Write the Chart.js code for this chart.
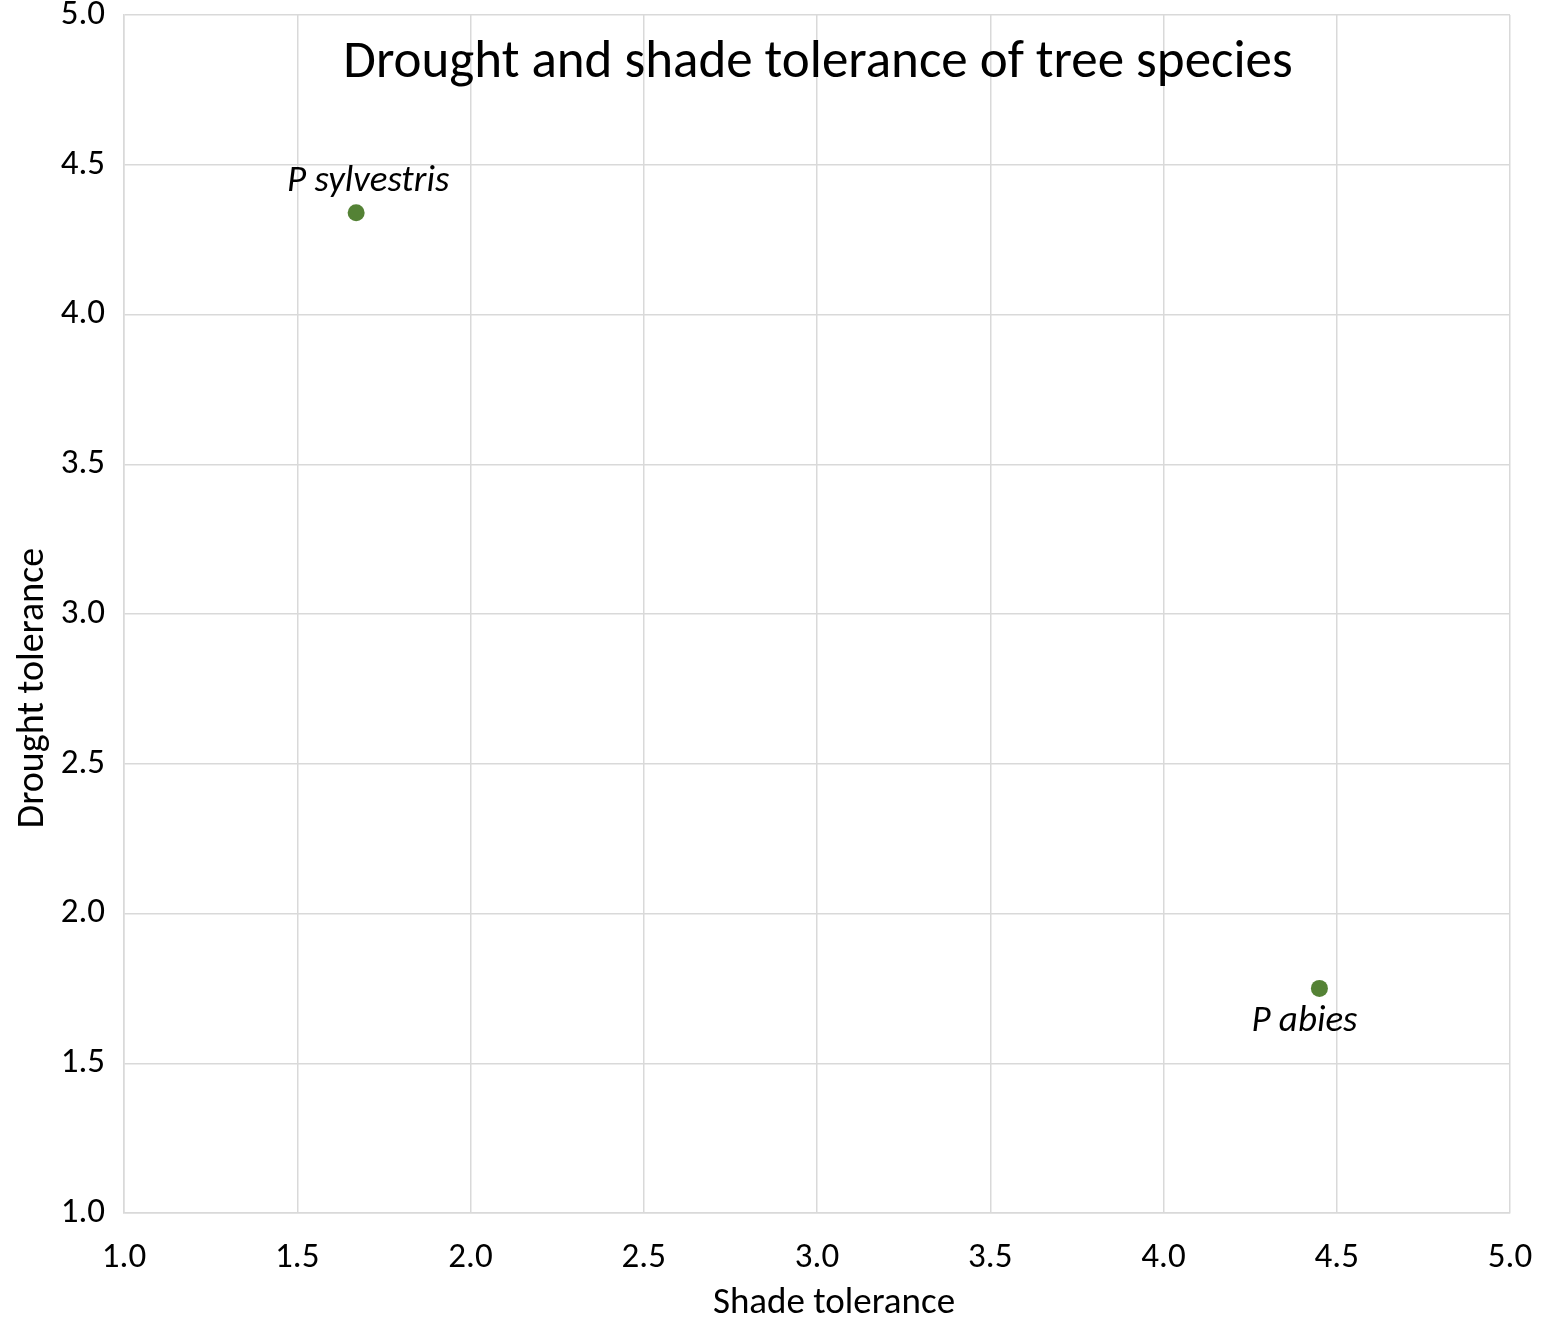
<!DOCTYPE html>
<html>
<head>
<meta charset="utf-8">
<script src="https://cdn.jsdelivr.net/npm/chart.js@4/dist/chart.umd.min.js"></script>
<style>
    html, body { margin: 0; padding: 0; background: #ffffff; }
    #treeChart { display: block; }
</style>
</head>
<body>
<canvas id="treeChart" width="1542" height="1323"></canvas>
<script>
    // Species and their tolerance scores
    const species = ['P sylvestris', 'P abies'];
    const shadeTolerance = [1.67, 4.45];
    const droughtTolerance = [4.34, 1.75];

    // Tick labels for both axes
    const tickLabels = ['1.0', '1.5', '2.0', '2.5', '3.0', '3.5', '4.0', '4.5', '5.0'];

    const chartTitle = 'Drought and shade tolerance of tree species';
    const xTitle = 'Shade tolerance';
    const yTitle = 'Drought tolerance';

    const FONT = 'Carlito, Lato, sans-serif';
    const GRID = '#d9d9d9';
    const POINT_COLOR = '#548235';

    // where each species name sits relative to its marker
    const labelOffsets = [
        { dx: 12, dy: -22 },
        { dx: -15, dy: 43 }
    ];

    // Title and axis titles are drawn by hand so they can sit off-centre
    const textPlugin = {
        id: 'textPlugin',
        afterDraw: function (chart) {
            const ctx = chart.ctx;
            const area = chart.chartArea;
            ctx.save();
            ctx.fillStyle = '#000000';
            ctx.textAlign = 'center';
            ctx.textBaseline = 'alphabetic';

            ctx.font = '53px ' + FONT;
            ctx.fillText(chartTitle, (area.left + area.right) / 2 + 1, 77);

            ctx.font = '37px ' + FONT;
            ctx.fillText(xTitle, 834, 1313);

            ctx.font = '38px ' + FONT;
            ctx.translate(43, 688);
            ctx.rotate(-Math.PI / 2);
            ctx.fillText(yTitle, 0, 0);
            ctx.restore();
        },
        afterDatasetsDraw: function (chart) {
            const ctx = chart.ctx;
            const meta = chart.getDatasetMeta(0);
            ctx.save();
            ctx.fillStyle = '#000000';
            ctx.textAlign = 'center';
            ctx.textBaseline = 'alphabetic';
            ctx.font = 'italic 37px ' + FONT;
            meta.data.forEach(function (pt, i) {
                const off = labelOffsets[i];
                ctx.fillText(species[i], pt.x + off.dx, pt.y + off.dy);
            });
            ctx.restore();
        }
    };

    const points = species.map(function (name, i) {
        return { x: shadeTolerance[i], y: droughtTolerance[i] };
    });

    const axisBase = {
        type: 'linear',
        min: parseFloat(tickLabels[0]),
        max: parseFloat(tickLabels[tickLabels.length - 1]),
        grid: { color: GRID, lineWidth: 1.5, drawTicks: false },
        border: { color: GRID, width: 1.5 },
        ticks: {
            stepSize: 0.5,
            color: '#000000',
            font: { family: FONT, size: 35 },
            callback: function (value) {
                const idx = tickLabels.indexOf(value.toFixed(1));
                return idx >= 0 ? tickLabels[idx] : '';
            }
        }
    };

    new Chart(document.getElementById('treeChart'), {
        type: 'scatter',
        data: {
            datasets: [{
                label: 'Species',
                data: points,
                backgroundColor: POINT_COLOR,
                borderColor: POINT_COLOR,
                borderWidth: 0,
                pointRadius: 8.5,
                pointHoverRadius: 8.5
            }]
        },
        options: {
            responsive: false,
            animation: false,
            devicePixelRatio: 1,
            layout: { padding: { top: 15, right: 32, left: 0, bottom: 0 } },
            plugins: {
                legend: { display: false },
                tooltip: { enabled: false },
                title: { display: false }
            },
            scales: {
                x: Object.assign({}, axisBase, {
                    position: 'bottom',
                    ticks: Object.assign({}, axisBase.ticks, { padding: 24, maxRotation: 0 }),
                    afterFit: function (scale) {
                        scale.height = 110;
                        scale.paddingLeft = 0;
                        scale.paddingRight = 0;
                    }
                }),
                y: Object.assign({}, axisBase, {
                    position: 'left',
                    ticks: Object.assign({}, axisBase.ticks, { padding: 19 }),
                    afterFit: function (scale) {
                        scale.width = 124;
                        scale.paddingTop = 0;
                        scale.paddingBottom = 0;
                    }
                })
            }
        },
        plugins: [textPlugin]
    });
</script>
</body>
</html>
